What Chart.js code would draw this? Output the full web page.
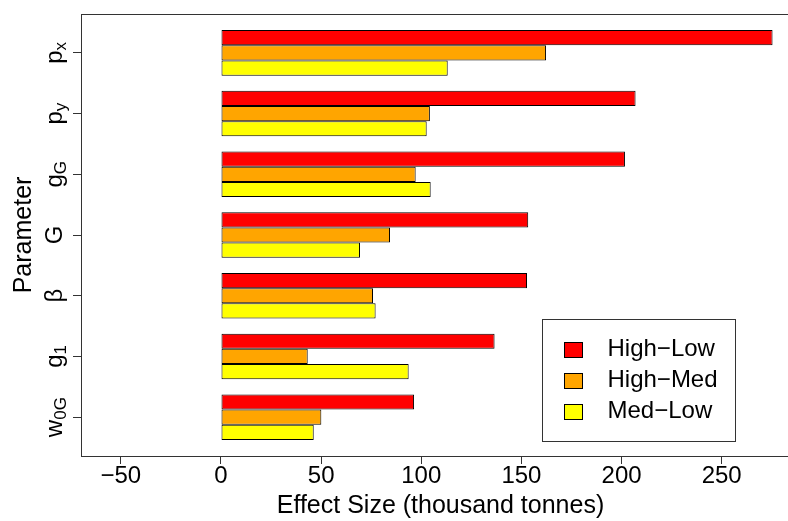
<!DOCTYPE html>
<html>
<head>
<meta charset="utf-8">
<script src="https://cdn.jsdelivr.net/npm/chart.js@4"></script>
<style>
  html, body { margin: 0; padding: 0; background: #fff; overflow: hidden; }
  #wrap { position: relative; width: 800px; height: 521px; }
</style>
</head>
<body>
<div id="wrap"><canvas id="chart" width="800" height="521"></canvas></div>
<script>
// parameter names, "_" starts the subscript part
const parameters = ['p_x', 'p_y', 'g_G', 'G', 'β', 'g_1', 'w_0G'];
const seriesNames = ['High\u2212Low', 'High\u2212Med', 'Med\u2212Low'];
const seriesColors = ['#FF0000', '#FFA500', '#FFFF00'];
const highLow = [275.4, 207.0, 201.7, 153.4, 152.8, 136.6, 96.4];
const highMed = [162.3, 104.3, 97.2, 84.4, 75.9, 43.3, 50.1];
const medLow = [113.2, 102.7, 104.7, 69.4, 77.2, 93.7, 46.3];
const xTicks = [-50, 0, 50, 100, 150, 200, 250];

const FONT = "'Liberation Sans', Arial, Helvetica, sans-serif";
const LINE = '#333';

// rotated parameter label with a subscript
function drawParam(ctx, label, x, y) {
    const parts = label.split('_');
    const base = parts[0], sub = parts[1] || '';
    ctx.font = '24px ' + FONT;
    const wb = ctx.measureText(base).width;
    ctx.font = '17px ' + FONT;
    const ws = sub ? ctx.measureText(sub).width : 0;
    ctx.save();
    ctx.translate(x, y);
    ctx.rotate(-Math.PI / 2);
    ctx.textBaseline = 'alphabetic';
    ctx.textAlign = 'left';
    ctx.fillStyle = '#000';
    const start = -(wb + ws) / 2;
    ctx.font = '24px ' + FONT;
    ctx.fillText(base, start, 0);
    if (sub) {
        ctx.font = '17px ' + FONT;
        ctx.fillText(sub, start + wb, 4);
    }
    ctx.restore();
}

const decorPlugin = {
    id: 'decor',
    afterDraw(chart) {
        const ctx = chart.ctx;
        const area = chart.chartArea;
        const yScale = chart.scales.y;

        // plot frame
        ctx.save();
        ctx.strokeStyle = LINE;
        ctx.lineWidth = 1;
        ctx.strokeRect(area.left + 0.5, area.top + 0.5, area.right - area.left, area.bottom - area.top);
        ctx.restore();

        // y labels
        parameters.forEach((p, i) => {
            drawParam(ctx, p, area.left - 19.5, yScale.getPixelForValue(i));
        });

        // legend box
        const bw = 193, bh = 122;
        const bx = area.right - 65 - bw, by = area.bottom - 15.5 - bh;
        ctx.save();
        ctx.fillStyle = '#fff';
        ctx.fillRect(bx, by, bw, bh);
        ctx.strokeStyle = LINE;
        ctx.strokeRect(Math.round(bx) + 0.5, Math.round(by) + 0.5, bw, bh);
        ctx.font = '24px ' + FONT;
        ctx.textBaseline = 'alphabetic';
        ctx.textAlign = 'left';
        chart.data.datasets.forEach((ds, i) => {
            const cy = by + 31 + i * 31;
            ctx.fillStyle = ds.backgroundColor;
            ctx.fillRect(Math.round(bx + 22) + 0.5, Math.round(cy - 7.5) + 0.5, 18, 15);
            ctx.strokeStyle = '#000';
            ctx.strokeRect(Math.round(bx + 22) + 0.5, Math.round(cy - 7.5) + 0.5, 18, 15);
            ctx.fillStyle = '#000';
            ctx.fillText(ds.label, bx + 65.5, cy + 6.5);
        });
        ctx.restore();
    }
};

const seriesValues = [highLow, highMed, medLow];

new Chart(document.getElementById('chart'), {
    type: 'bar',
    data: {
        datasets: seriesValues.map((vals, k) => ({
            label: seriesNames[k],
            data: vals.map((v, i) => ({ x: v, y: i })),
            backgroundColor: seriesColors[k],
            borderColor: '#000',
            borderWidth: 1,
            borderSkipped: false,
            categoryPercentage: 0.75,
            barPercentage: 1.0
        }))
    },
    options: {
        indexAxis: 'y',
        responsive: false,
        animation: false,
        devicePixelRatio: 1,
        layout: { padding: { left: 11.5, top: 14, right: 0, bottom: 0 } },
        plugins: {
            legend: { display: false },
            tooltip: { enabled: false }
        },
        scales: {
            x: {
                type: 'linear',
                position: 'bottom',
                min: -69.9,
                max: 289.1,
                afterBuildTicks: s => { s.ticks = xTicks.map(v => ({ value: v })); },
                ticks: {
                    autoSkip: false,
                    maxRotation: 0,
                    padding: 0,
                    color: '#000',
                    font: { family: FONT, size: 24, lineHeight: 1 },
                    callback: v => (v < 0 ? '\u2212' + Math.abs(v) : String(v))
                },
                grid: { drawOnChartArea: false, tickLength: 8, color: LINE },
                border: { display: false },
                title: {
                    display: true,
                    text: 'Effect Size (thousand tonnes)',
                    color: '#000',
                    font: { family: FONT, size: 25, lineHeight: 1 },
                    padding: { top: 5.5, bottom: 2.5 }
                }
            },
            y: {
                type: 'linear',
                position: 'left',
                reverse: true,
                offset: false,
                min: -0.64,
                max: 6.64,
                afterBuildTicks: s => { s.ticks = parameters.map((p, i) => ({ value: i })); },
                ticks: { display: false },
                grid: { offset: false, drawOnChartArea: false, tickLength: 8, color: LINE },
                border: { display: false },
                title: {
                    display: true,
                    text: 'Parameter',
                    color: '#000',
                    font: { family: FONT, size: 25, lineHeight: 1 },
                    padding: { top: 0, bottom: 36.5 }
                }
            }
        }
    },
    plugins: [decorPlugin]
});
</script>
</body>
</html>
